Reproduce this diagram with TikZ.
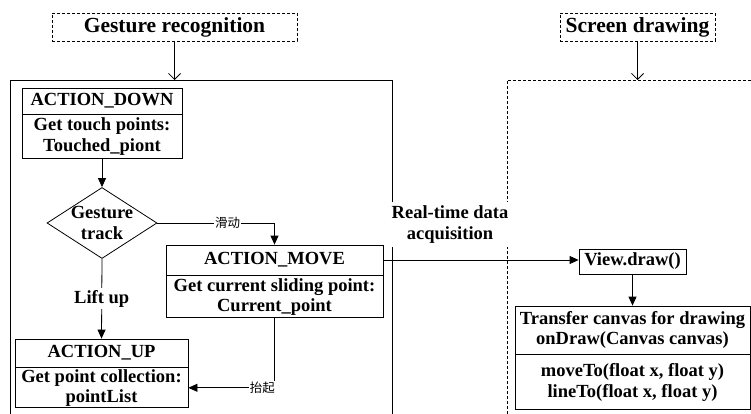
\documentclass[tikz,border=0pt]{standalone}
\usepackage{fontspec}
\setmainfont{Liberation Serif}
\newfontfamily\cjk{Noto Sans CJK SC}
\usetikzlibrary{arrows.meta,positioning,shapes.geometric}

\begin{document}
\begin{tikzpicture}[
    x=1pt,
    y=-1pt,
    >={Triangle[length=9pt,width=8pt]},
    every node/.style={font=\fontsize{18.5}{20.5}\selectfont\bfseries},
    title/.style={draw, dash pattern=on 3pt off 2pt, line width=0.7pt,
        minimum height=28pt, inner sep=0pt,
        font=\fontsize{21.5}{24}\selectfont\bfseries},
    head/.style={draw, line width=0.8pt, inner sep=0pt, align=center},
    body/.style={draw, line width=0.8pt, inner sep=0pt, align=center},
    decision/.style={draw, diamond, line width=0.8pt,
        minimum width=110pt, minimum height=71pt, inner sep=0pt},
    tag/.style={fill=white, inner sep=1pt,
        font=\cjk\fontsize{12.5}{14}\selectfont},
    flow/.style={->, line width=0.8pt},
    feed/.style={-{Straight Barb[length=6pt,width=12pt]}, line width=0.8pt},
    frame/.style={line width=0.8pt}
]

\useasboundingbox (0,0) rectangle (751,414);

% ---------------------------------------------------------
% Frames
% ---------------------------------------------------------

\draw[frame] (10,414) -- (10,80) -- (392,80) -- (392,414);
\coordinate (lefttop) at (175,80);

\draw[frame, dash pattern=on 3pt off 2pt]
    (507,414) -- (507,80) -- (751,80);
\coordinate (righttop) at (637,80);

% Titles
\node[title, minimum width=245pt] (gtitle) at (174.5,27)
    {Gesture recognition};

\node[title, minimum width=155pt] (stitle) at (637.5,27)
    {Screen drawing};

\draw[feed] (gtitle.south) -- (gtitle.south |- lefttop);
\draw[feed] (stitle.south) -- (stitle.south |- righttop);

% ---------------------------------------------------------
% Gesture recognition
% ---------------------------------------------------------

\node[head, minimum width=160pt, minimum height=26pt] (down)
    at (102,101) {ACTION\_DOWN};
\node[body, minimum width=160pt, minimum height=44pt,
    below=0pt of down] (downb)
    {Get touch points:\\Touched\_piont};

\node[decision,
    label={[align=center]center:Gesture\\track}] (track)
    at (102,223) {};

\node[head, minimum width=217pt, minimum height=30pt] (move)
    at (274.5,260) {ACTION\_MOVE};
\node[body, minimum width=217pt, minimum height=42pt,
    below=0pt of move] (moveb)
    {Get current sliding point:\\Current\_point};

\node[head, minimum width=173pt, minimum height=28pt] (up)
    at (101.5,353) {ACTION\_UP};
\node[body, minimum width=173pt, minimum height=40pt,
    below=0pt of up] (upb)
    {Get point collection:\\pointList};

\draw[flow] (downb) -- (track);

\draw[flow] (track.east) -| (move.north)
    node[tag, pos=0.3] {滑动};

\draw[flow] (track.south) -- (up.north)
    node[fill=white, inner sep=2pt, midway] {Lift up};

\draw[flow] (moveb.south) |- (upb.east)
    node[tag, pos=0.57] {抬起};

% ---------------------------------------------------------
% Data transfer
% ---------------------------------------------------------

\node[fill=white, minimum width=120pt, minimum height=45pt,
    inner sep=0pt, align=center] (rt)
    at (450,224.5) {Real-time data\\acquisition};

% ---------------------------------------------------------
% Screen drawing
% ---------------------------------------------------------

\node[head, minimum width=107pt, minimum height=25pt] (view)
    at (632.5,261.5) {View.draw()};

\node[head, minimum width=235pt, minimum height=48pt] (canvas)
    at (632.5,330) {Transfer canvas for drawing\\onDraw(Canvas canvas)};
\node[body, minimum width=235pt, minimum height=55pt,
    below=0pt of canvas] (canvasb)
    {moveTo(float x, float y)\\lineTo(float x, float y)};

\draw[flow] (move.east) -- (move.east -| view.west);
\draw[flow] (view) -- (canvas);

\end{tikzpicture}
\end{document}
